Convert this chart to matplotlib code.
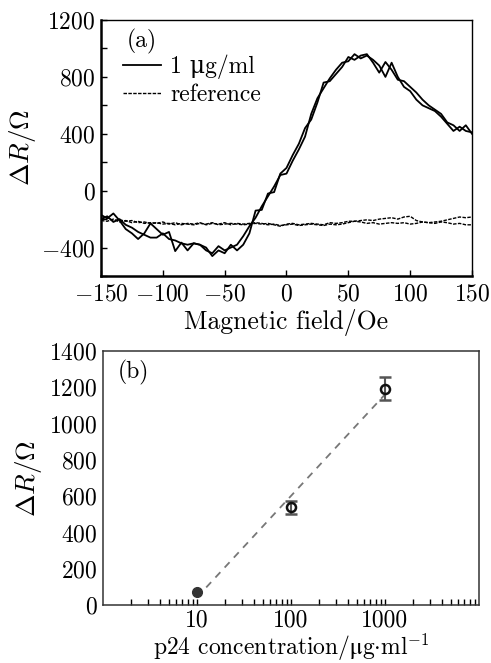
import matplotlib
matplotlib.use("Agg")
import matplotlib.pyplot as plt
import numpy as np
from matplotlib.ticker import MultipleLocator, FixedLocator, FixedFormatter, NullFormatter, LogLocator

plt.rcParams['font.family'] = ['cmr10', 'DejaVu Serif']
plt.rcParams['mathtext.fontset'] = 'cm'
plt.rcParams['axes.formatter.use_mathtext'] = True
plt.rcParams['axes.unicode_minus'] = True

# --- panel (a): field sweep ---
field = np.arange(-150, 151, 5)

sweep_up = [-170, -195, -160, -210, -270, -300, -340, -300, -230, -270,
            -310, -290, -425, -365, -420, -370, -380, -400, -460, -420,
            -440, -380, -420, -380, -300, -140, -135, -20, -10, 120,
            160, 250, 330, 440, 500, 620, 760, 770, 820, 870,
            940, 920, 950, 960, 900, 830, 905, 850, 780, 770,
            730, 690, 640, 600, 570, 540, 480, 460, 420, 460, 400]

sweep_down = [-200, -180, -220, -200, -240, -260, -290, -310, -330, -330,
              -300, -340, -350, -370, -380, -370, -380, -420, -440, -390,
              -420, -400, -380, -320, -250, -190, -110, -40, 30, 110,
              120, 210, 290, 380, 540, 650, 720, 790, 850, 900,
              910, 960, 930, 950, 920, 880, 800, 900, 800, 730,
              700, 640, 600, 580, 560, 520, 470, 420, 450, 420, 410]

ref_up = [-200, -190, -210, -205, -215, -210, -225, -220, -230, -225,
          -235, -230, -240, -230, -235, -240, -230, -235, -225, -240,
          -235, -230, -235, -240, -235, -230, -235, -230, -240, -250,
          -235, -230, -240, -235, -230, -235, -240, -225, -230, -225,
          -215, -215, -210, -205, -210, -200, -195, -190, -200, -185,
          -180, -210, -220, -225, -220, -215, -205, -195, -185, -190, -185]

ref_down = [-210, -215, -200, -220, -210, -225, -215, -230, -225, -230,
            -220, -235, -225, -240, -230, -235, -225, -240, -230, -235,
            -225, -240, -230, -235, -230, -225, -230, -240, -235, -245,
            -240, -235, -245, -240, -235, -240, -245, -235, -240, -235,
            -225, -215, -220, -230, -225, -235, -230, -225, -230, -225,
            -235, -230, -220, -225, -230, -220, -225, -235, -230, -240, -240]

# --- panel (b): concentration ---
conc = [10, 100, 1000]
dR = [75, 540, 1192]
dR_err = [8, 35, 64]

fig = plt.figure(figsize=(4.91, 6.63), dpi=100)
fs = 17     # tick labels / legend
fl = 18.5   # axis labels

ax1 = fig.add_axes([0.2057, 0.5837, 0.7556, 0.3861])
ax1.plot(field, sweep_up, color='black', lw=1.3, label='1 μg/ml')
ax1.plot(field, sweep_down, color='black', lw=1.3)
ax1.plot(field, ref_up, color='black', lw=1.0, ls=(0, (2.5, 1)), label='reference')
ax1.plot(field, ref_down, color='black', lw=1.0, ls=(0, (2.5, 1)))
ax1.set_xlim(-150, 150)
ax1.set_ylim(-600, 1200)
ax1.xaxis.set_major_locator(MultipleLocator(50))
ax1.yaxis.set_major_locator(MultipleLocator(400))
ax1.yaxis.set_minor_locator(MultipleLocator(200))
ax1.tick_params(axis='both', which='both', direction='in', labelsize=fs,
                top=False, right=False, length=4, width=1)
ax1.tick_params(axis='x', pad=5)
ax1.tick_params(axis='y', pad=4)
ax1.spines['left'].set_linewidth(1.8)
ax1.spines['bottom'].set_linewidth(1.8)
ax1.spines['top'].set_linewidth(1.0)
ax1.spines['right'].set_linewidth(1.0)
ax1.set_xlabel('Magnetic field/Oe', fontsize=fl, labelpad=3)
ax1.set_ylabel(r'$\Delta R/\mathit{\Omega}$', fontsize=fl + 1, labelpad=2)
ax1.text(0.07, 0.915, '(a)', transform=ax1.transAxes, fontsize=fs, va='center')
ax1.legend(loc='upper left', bbox_to_anchor=(0.06, 0.865), frameon=False,
           fontsize=fs, handlelength=1.6, handletextpad=0.4, labelspacing=0.2,
           borderaxespad=0, borderpad=0)

ax2 = fig.add_axes([0.2098, 0.087, 0.7658, 0.3836])
logc = np.log10(conc)
k, b = np.polyfit(logc, dR, 1)
xf = np.array([conc[0], conc[-1]])
ax2.plot(xf, k * np.log10(xf) + b, color='#777777', lw=1.3, ls=(0, (4, 3.5)))
ax2.errorbar(conc[1:], dR[1:], yerr=dR_err[1:], fmt='o', mfc='none', mec='#111111',
             mew=1.8, ms=6.5, ecolor='#555555', elinewidth=1.5, capsize=4, capthick=1.5)
ax2.errorbar(conc[:1], dR[:1], yerr=dR_err[:1], fmt='o', mfc='#333333', mec='#333333',
             ms=7, ecolor='#555555', elinewidth=1.5, capsize=0)
ax2.set_xscale('log')
ax2.set_xlim(1, 10000)
ax2.set_ylim(0, 1400)
ax2.xaxis.set_major_locator(FixedLocator([10, 100, 1000]))
ax2.xaxis.set_major_formatter(FixedFormatter(['10', '100', '1000']))
ax2.xaxis.set_minor_locator(LogLocator(base=10, subs=np.arange(2, 10), numticks=20))
ax2.xaxis.set_minor_formatter(NullFormatter())
ax2.yaxis.set_major_locator(MultipleLocator(200))
ax2.tick_params(axis='x', which='both', direction='in', labelsize=fs, length=4, width=1, pad=3)
ax2.tick_params(axis='y', which='both', length=0, labelsize=fs, pad=4)
for s in ax2.spines.values():
    s.set_linewidth(1.1)
    s.set_color('#333333')
ax2.set_xlabel(r'p24 concentration/$\mathrm{μ}$g$\cdot$ml$^{-1}$', fontsize=fl - 1.5, labelpad=0)
ax2.set_ylabel(r'$\Delta R/\mathit{\Omega}$', fontsize=fl + 1, labelpad=4)
ax2.text(0.04, 0.915, '(b)', transform=ax2.transAxes, fontsize=fs, va='center')

fig.savefig('out.png', dpi=100)
